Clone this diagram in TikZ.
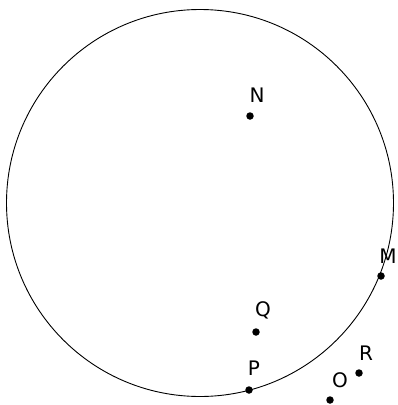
\documentclass[tikz,border=0pt]{standalone}
\usepackage{fontspec}
\setmainfont{DejaVu Sans}
\begin{document}
\begin{tikzpicture}[x=1pt,y=-1pt,
  pt/.style={circle,fill=black,inner sep=0pt,minimum size=7.5pt},
  lbl/.style={font=\fontsize{20}{20}\selectfont,inner sep=0pt}]
\useasboundingbox (0,0) rectangle (398,405);
\node[draw,circle,line width=0.9pt,minimum size=387pt,inner sep=0pt] (C) at (200,203) {};
\node[pt] (N) at (250,116) {};
\node[pt] (M) at (381,276) {};
\node[pt] (Q) at (256,332) {};
\node[pt] (P) at (249,390) {};
\node[pt] (O) at (330,400) {};
\node[pt] (R) at (359,373) {};
\node[lbl] (Nl) at (257,95) {N};
\node[lbl] (Ml) at (388,256) {M};
\node[lbl] (Ql) at (263,310) {Q};
\node[lbl] (Pl) at (254,368) {P};
\node[lbl] (Ol) at (340,380) {O};
\node[lbl] (Rl) at (366,353) {R};
\end{tikzpicture}
\end{document}
